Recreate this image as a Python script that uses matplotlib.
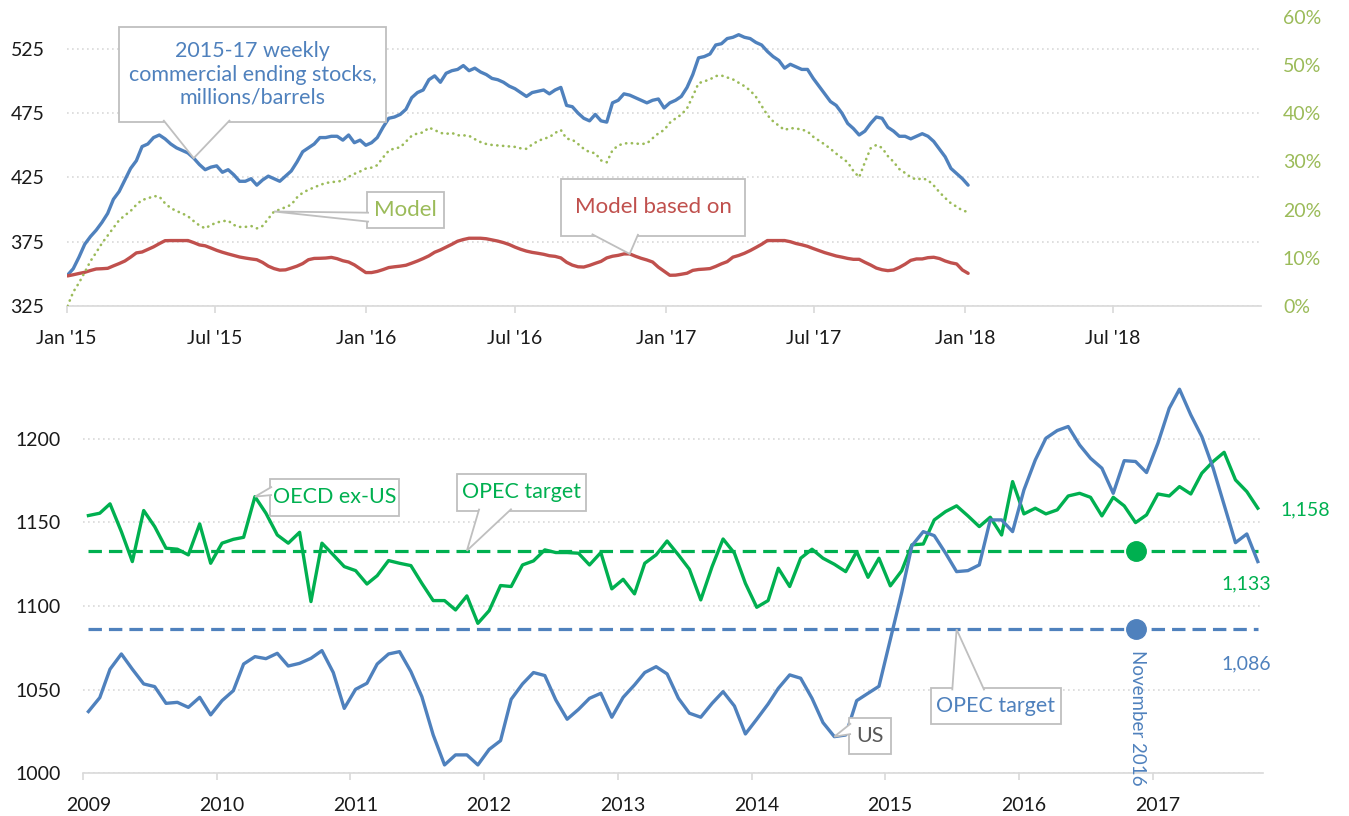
import matplotlib
matplotlib.use("Agg")
import matplotlib.pyplot as plt
import matplotlib.dates as mdates
from matplotlib.patches import Rectangle, Polygon
from matplotlib.ticker import FuncFormatter, MultipleLocator
from matplotlib.transforms import ScaledTranslation
import numpy as np
import pandas as pd

plt.rcParams["font.family"] = ["Lato", "DejaVu Sans"]

# ---- top panel: weekly series, Jan 2015 - Jan 2018 ----
WEEK_START = "2015-01-02"
STOCKS = [
    349, 354, 363, 373, 379, 384, 390, 397, 408, 414,
    423, 432, 438, 449, 451, 456, 458, 455, 451, 448,
    446, 444, 440, 435, 431, 433, 434, 429, 431, 427,
    422, 422, 424, 419, 423, 426, 424, 422, 426, 430,
    437, 445, 448, 451, 456, 456, 457, 457, 454, 458,
    452, 454, 450, 452, 456, 464, 471, 472, 474, 478,
    487, 491, 493, 501, 504, 499, 506, 508, 509, 512,
    508, 510, 507, 505, 502, 501, 499, 496, 494, 491,
    488, 491, 492, 493, 490, 493, 495, 481, 480, 475,
    471, 469, 474, 469, 468, 483, 485, 490, 489, 487,
    485, 483, 485, 486, 479, 483, 485, 488, 495, 505,
    518, 519, 521, 528, 529, 533, 534, 536, 534, 533,
    530, 528, 523, 519, 516, 510, 513, 511, 509, 509,
    502, 496, 490, 484, 481, 475, 467, 463, 458, 461,
    467, 472, 471, 464, 461, 457, 457, 455, 457, 459,
    457, 453, 447, 441, 432, 428, 424, 419,
]
MODEL_PCT = [
    0, 2.9, 4.8, 7.0, 9.3, 11.1, 13.0, 14.6, 16.2, 17.8,
    18.8, 19.7, 21.0, 22.0, 22.3, 22.8, 22.7, 21.3, 20.3, 19.7,
    19.2, 18.6, 17.6, 16.7, 16.1, 16.8, 17.3, 17.6, 17.7, 16.8,
    16.4, 16.4, 16.6, 16.1, 16.6, 18.1, 19.6, 20.0, 20.5, 21.0,
    22.5, 23.5, 24.1, 24.6, 25.1, 25.5, 25.7, 25.8, 26.0, 26.8,
    27.4, 27.9, 28.5, 28.7, 29.2, 30.8, 32.2, 32.7, 32.9, 34.1,
    35.3, 35.8, 36.0, 37.0, 36.5, 35.9, 35.7, 35.9, 35.4, 35.4,
    35.3, 34.6, 34.0, 33.6, 33.4, 33.3, 33.2, 33.1, 33.0, 32.7,
    32.6, 33.5, 34.2, 34.7, 35.0, 35.9, 36.5, 34.7, 34.5, 33.6,
    32.6, 31.9, 31.7, 30.2, 29.8, 32.3, 33.3, 33.7, 33.8, 33.7,
    33.6, 33.7, 34.8, 35.8, 36.5, 38.0, 38.9, 39.7, 41.0, 43.5,
    46.2, 46.6, 47.0, 47.7, 47.8, 47.4, 47.0, 46.3, 45.6, 44.7,
    43.4, 41.5, 39.6, 38.3, 37.4, 36.5, 36.9, 36.8, 36.6, 36.2,
    35.1, 34.3, 33.5, 32.6, 31.6, 30.7, 29.8, 28.0, 26.7, 29.8,
    32.7, 33.4, 32.8, 31.1, 29.9, 28.4, 27.6, 26.7, 26.2, 26.5,
    26.1, 25.0, 23.6, 22.4, 21.3, 20.6, 19.8, 19.5,
]
MODEL_BASE = [
    348.4, 349.3, 350.3, 351.2, 352.6, 353.8, 354.0, 354.3, 356.2, 358.0,
    360.0, 363.0, 366.3, 367.0, 369.0, 371.0, 373.5, 375.8, 375.9, 375.9,
    375.9, 375.9, 374.3, 372.5, 371.8, 370.1, 368.3, 366.8, 365.5, 364.3,
    363.1, 362.3, 361.6, 361.0, 358.9, 356.0, 354.1, 352.9, 353.1, 354.5,
    356.0, 358.0, 361.0, 362.0, 362.1, 362.3, 362.8, 361.8, 360.2, 359.2,
    357.0, 354.0, 351.0, 351.0, 351.9, 353.3, 354.9, 355.5, 356.0, 356.7,
    358.3, 360.0, 361.9, 364.0, 366.8, 368.6, 370.8, 373.0, 375.4, 376.7,
    377.7, 377.7, 377.7, 377.3, 376.4, 375.5, 374.3, 372.8, 370.8, 369.1,
    367.7, 366.7, 366.0, 365.2, 364.1, 363.6, 362.4, 359.0, 356.8, 355.5,
    355.3, 356.6, 358.2, 359.7, 362.4, 363.7, 364.4, 365.5, 365.5, 363.7,
    362.1, 360.8, 359.2, 355.2, 352.0, 348.9, 349.0, 349.7, 350.5, 352.7,
    353.4, 353.7, 354.1, 355.8, 357.8, 359.5, 363.0, 364.3, 366.0, 368.1,
    370.5, 373.0, 375.9, 375.9, 375.9, 375.9, 375.0, 373.6, 372.6, 371.4,
    369.7, 368.1, 366.5, 365.2, 363.9, 363.0, 362.0, 361.3, 361.3, 359.0,
    356.9, 354.5, 353.2, 352.5, 353.0, 355.0, 357.5, 360.5, 361.6, 361.6,
    362.6, 362.9, 361.9, 360.0, 358.6, 357.7, 353.0, 350.4,
]

# ---- bottom panel: monthly series, Jan 2009 - Oct 2017 ----
MONTH_START = "2009-01-01"
OECD_EX_US = [
    1154.0, 1155.4, 1161.0, 1144.4, 1126.5, 1157.0, 1147.4, 1134.5, 1133.9, 1130.5,
    1149.0, 1125.5, 1137.5, 1139.8, 1141.0, 1165.3, 1155.4, 1142.4, 1137.5, 1144.0,
    1102.6, 1137.5, 1130.5, 1123.5, 1121.1, 1113.1, 1118.1, 1127.1, 1125.5, 1124.1,
    1113.5, 1103.2, 1103.2, 1097.6, 1106.0, 1089.6, 1097.2, 1112.2, 1111.6, 1124.5,
    1126.9, 1133.5, 1131.9, 1131.9, 1131.5, 1124.5, 1131.9, 1110.2, 1115.9, 1107.2,
    1125.5, 1130.5, 1138.8, 1130.5, 1121.9, 1103.6, 1123.5, 1140.0, 1131.5, 1113.5,
    1099.2, 1103.2, 1122.5, 1111.6, 1128.5, 1133.9, 1128.5, 1124.9, 1120.5, 1132.5,
    1117.1, 1128.5, 1112.0, 1121.0, 1136.5, 1137.0, 1151.4, 1156.4, 1159.8, 1153.8,
    1147.4, 1153.0, 1142.4, 1174.3, 1155.0, 1158.4, 1155.0, 1157.4, 1165.7, 1167.3,
    1164.9, 1153.8, 1164.9, 1159.8, 1149.8, 1154.4, 1166.9, 1165.7, 1171.3, 1166.9,
    1179.3, 1186.3, 1191.8, 1175.3, 1168.3, 1158.4,
]
US_STOCKS = [
    1036.9, 1045.2, 1062.2, 1071.3, 1062.2, 1053.4, 1051.8, 1041.8, 1042.4, 1039.4,
    1045.4, 1034.9, 1043.4, 1049.4, 1065.3, 1069.7, 1068.5, 1071.7, 1064.1, 1065.7,
    1068.7, 1073.3, 1060.2, 1038.8, 1050.2, 1053.8, 1065.3, 1071.3, 1072.7, 1060.8,
    1045.8, 1022.9, 1005.0, 1011.0, 1011.0, 1005.0, 1014.3, 1019.5, 1044.2, 1053.4,
    1060.2, 1058.4, 1043.8, 1032.3, 1038.2, 1044.8, 1047.8, 1033.5, 1045.4, 1052.8,
    1060.2, 1063.7, 1059.4, 1044.8, 1035.9, 1033.5, 1041.8, 1048.8, 1040.2, 1023.5,
    1032.3, 1041.4, 1050.8, 1058.8, 1056.8, 1044.8, 1030.3, 1021.9, 1022.9, 1043.4,
    1047.8, 1052.0, 1080.0, 1108.0, 1136.0, 1144.4, 1142.0, 1131.5, 1120.5, 1121.1,
    1124.5, 1151.4, 1151.4, 1144.4, 1169.3, 1187.2, 1200.2, 1204.8, 1207.2, 1196.2,
    1188.2, 1182.3, 1167.3, 1186.8, 1186.3, 1179.7, 1197.2, 1218.1, 1229.5, 1214.1,
    1201.2, 1182.3, 1160.4, 1137.8, 1143.0, 1126.5,
]
OPEC_TARGET_OECD = 1133
OPEC_TARGET_US = 1086
MARK_MONTH = "2016-11"

BLUE = "#4F81BD"
RED = "#C0504D"
OLIVE = "#9BBB59"
GREEN = "#00B050"
GRAY_TXT = "#595959"
GRID = "#D9D9D9"
BOX_EDGE = "#BFBFBF"
TICK_TXT = "#1A1A1A"

weeks = pd.date_range(WEEK_START, periods=len(STOCKS), freq="7D")
months = pd.date_range(MONTH_START, periods=len(US_STOCKS), freq="MS") + pd.Timedelta(days=14)
mark_idx = int(np.where(months.strftime("%Y-%m") == MARK_MONTH)[0][0])


def style_axes(ax):
    for side in ("left", "right", "top"):
        ax.spines[side].set_visible(False)
    ax.spines["bottom"].set_color(GRID)
    ax.spines["bottom"].set_linewidth(1.2)
    ax.grid(axis="y", color=GRID, linestyle=(0, (1, 2)), linewidth=1.2)
    ax.set_axisbelow(True)
    ax.tick_params(axis="y", length=0, pad=16, labelsize=14, labelcolor=TICK_TXT)
    ax.tick_params(axis="x", length=5, width=1.2, color=GRID, pad=12, labelsize=14,
                   labelcolor=TICK_TXT)


def callout(ax, label, color, box, base, side, tip_xy, tip_trans, fs=15.5):
    x0, y0, x1, y1 = box
    ax.add_patch(Rectangle((x0, y0), x1 - x0, y1 - y0, transform=ax.transAxes,
                           fc="white", ec=BOX_EDGE, lw=1.3, zorder=10, clip_on=False))
    to_ax = ax.transAxes.inverted()
    nudge = {"bottom": (0, 2), "top": (0, -2), "left": (2, 0)}[side]
    pts = ax.transAxes.transform(base) + np.array(nudge)
    b0, b1 = to_ax.transform(pts)
    tip = to_ax.transform(tip_trans.transform(tip_xy))
    ax.add_patch(Polygon([b0, tip, b1], closed=False, transform=ax.transAxes,
                         fc="white", ec=BOX_EDGE, lw=1.3, zorder=11, clip_on=False))
    ax.text((x0 + x1) / 2, (y0 + y1) / 2, label, transform=ax.transAxes,
            ha="center", va="center", color=color, fontsize=fs, zorder=12,
            linespacing=1.2)


fig = plt.figure(figsize=(13.49, 8.16), dpi=100)
fig.patch.set_facecolor("white")

# ---------------- top panel ----------------
ax = fig.add_axes([0.04944, 0.625, 0.88510, 0.35453])
style_axes(ax)
ax.set_ylim(325, 550)
ax.set_yticks([325, 375, 425, 475, 525])
ax.set_xlim(pd.Timestamp("2015-01-01"), pd.Timestamp("2018-12-28"))
ax.xaxis.set_major_locator(mdates.MonthLocator(bymonth=[1, 7]))
ax.xaxis.set_major_formatter(mdates.DateFormatter("%b '%y"))
ax.plot(weeks, STOCKS, color=BLUE, lw=2.4, solid_capstyle="round", zorder=3)
ax.plot(weeks, MODEL_BASE, color=RED, lw=2.4, solid_capstyle="round", zorder=3)

ax2 = ax.twinx()
ax2.set_ylim(0, 0.60)
ax2.yaxis.set_major_locator(MultipleLocator(0.10))
ax2.yaxis.set_major_formatter(FuncFormatter(lambda v, p: f"{v * 100:.0f}%"))
for side in ("left", "right", "top", "bottom"):
    ax2.spines[side].set_visible(False)
ax2.tick_params(axis="y", length=0, pad=16, labelsize=14, labelcolor=OLIVE)
model_frac = np.array(MODEL_PCT) / 100.0
ax2.plot(weeks, model_frac, color=OLIVE, lw=1.9, linestyle=(0, (0.1, 2.1)),
         dash_capstyle="round", zorder=3)

callout(ax2, "2015-17 weekly\ncommercial ending stocks,\nmillions/barrels", BLUE,
        (0.0438, 0.636, 0.2674, 0.9644), [(0.0809, 0.636), (0.1368, 0.636)], "bottom",
        (mdates.date2num(weeks[22]), STOCKS[22]), ax.transData)
callout(ax2, "Model", OLIVE,
        (0.2515, 0.2696, 0.316, 0.394), [(0.2515, 0.3225), (0.2515, 0.2914)], "left",
        (mdates.date2num(weeks[36]), model_frac[36]), ax2.transData, fs=16)
callout(ax2, "Model based on", RED,
        (0.4137, 0.242, 0.5683, 0.44), [(0.4397, 0.242), (0.4787, 0.242)], "bottom",
        (mdates.date2num(weeks[98]), MODEL_BASE[98]), ax.transData, fs=16)

# ---------------- bottom panel ----------------
bx = fig.add_axes([0.06175, 0.05233, 0.87472, 0.48199])
style_axes(bx)
bx.set_ylim(1000, 1235)
bx.set_yticks([1000, 1050, 1100, 1150, 1200])
bx.set_xlim(pd.Timestamp("2009-01-01"), pd.Timestamp("2017-10-30"))
bx.xaxis.set_major_locator(mdates.YearLocator())
bx.xaxis.set_major_formatter(mdates.DateFormatter("%Y"))
# year labels sit a little right of their tick marks
shift = ScaledTranslation(5 / 100, 0, fig.dpi_scale_trans)
for lab in bx.get_xticklabels():
    lab.set_transform(lab.get_transform() + shift)

dash = (0, (4.2, 2.2))
bx.plot(months, np.full(len(months), OPEC_TARGET_OECD), color=GREEN, lw=2.3,
        linestyle=dash, zorder=2)
bx.plot(months, np.full(len(months), OPEC_TARGET_US), color=BLUE, lw=2.3,
        linestyle=dash, zorder=2)
bx.plot(months, OECD_EX_US, color=GREEN, lw=2.4, zorder=3)
bx.plot(months, US_STOCKS, color=BLUE, lw=2.4, zorder=4)
bx.plot([months[mark_idx]], [OPEC_TARGET_OECD], "o", color=GREEN, ms=14, zorder=5)
bx.plot([months[mark_idx]], [OPEC_TARGET_US], "o", color=BLUE, ms=14, zorder=5)

bx.annotate("November 2016", (months[mark_idx], OPEC_TARGET_US), xytext=(1.5, -15),
            textcoords="offset points", rotation=270, ha="center", va="top",
            color=BLUE, fontsize=13.5, zorder=6)
bx.annotate(f"{OECD_EX_US[-1]:,.0f}", (months[-1], OECD_EX_US[-1]), xytext=(16, -1),
            textcoords="offset points", ha="left", va="center", color=GREEN,
            fontsize=14, annotation_clip=False)
bx.annotate(f"{OPEC_TARGET_OECD:,}", (months[-1], OPEC_TARGET_OECD), xytext=(-26, -24),
            textcoords="offset points", ha="left", va="center", color=GREEN,
            fontsize=14, annotation_clip=False)
bx.annotate(f"{OPEC_TARGET_US:,}", (months[-1], OPEC_TARGET_US), xytext=(-26, -25),
            textcoords="offset points", ha="left", va="center", color=BLUE,
            fontsize=14, annotation_clip=False)

callout(bx, "OECD ex-US", GREEN,
        (0.1582, 0.655, 0.2675, 0.7475), [(0.1582, 0.7287), (0.1582, 0.7076)], "left",
        (mdates.date2num(months[15]), OECD_EX_US[15]), bx.transData)
callout(bx, "OPEC target", GREEN,
        (0.3164, 0.6677, 0.426, 0.761), [(0.3356, 0.6677), (0.363, 0.6677)], "bottom",
        (mdates.date2num(months[34]), OPEC_TARGET_OECD), bx.transData)
callout(bx, "US", GRAY_TXT,
        (0.6489, 0.049, 0.6845, 0.1414), [(0.6489, 0.1271), (0.6489, 0.0999)], "left",
        (mdates.date2num(months[67]), US_STOCKS[67]), bx.transData)
callout(bx, "OPEC target", BLUE,
        (0.7181, 0.1246, 0.8283, 0.2161), [(0.7364, 0.2161), (0.7636, 0.2161)], "top",
        (mdates.date2num(months[78]), OPEC_TARGET_US), bx.transData)

fig.savefig("out.png", dpi=100, facecolor="white")
